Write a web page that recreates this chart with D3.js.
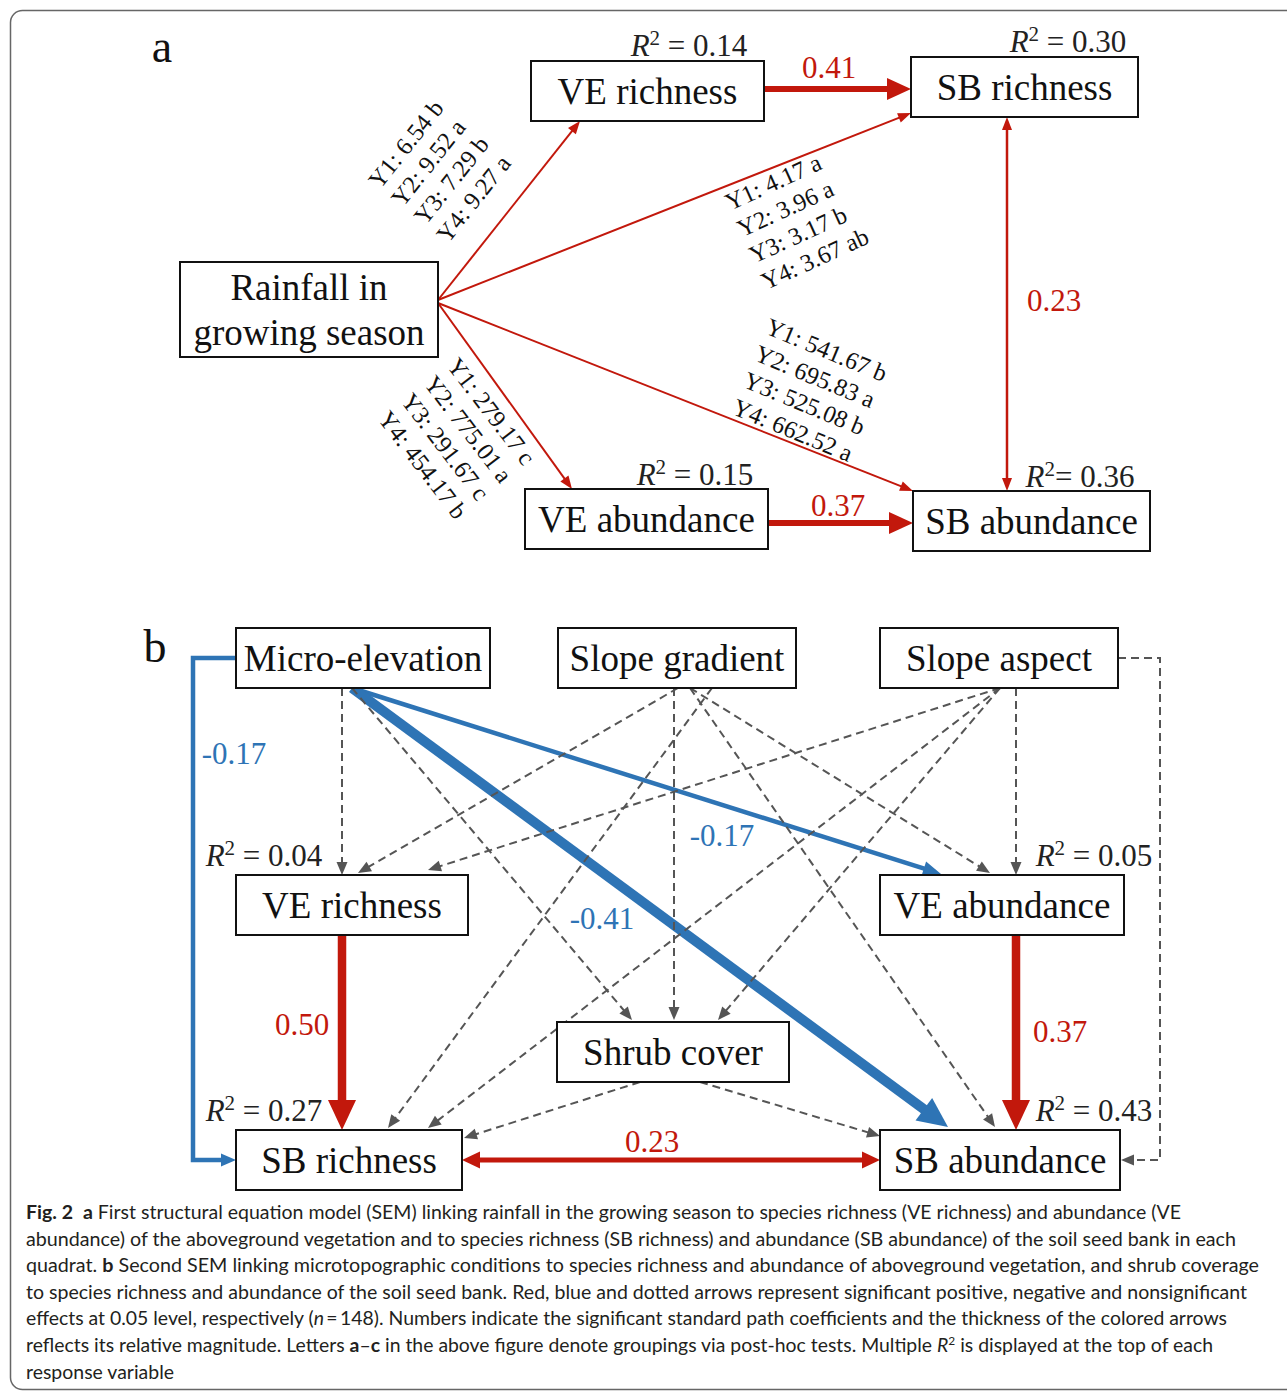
<!DOCTYPE html>
<html>
<head>
<meta charset="utf-8">
<script src="https://cdn.jsdelivr.net/npm/d3@7"></script>
<style>
  body { margin: 0; background: #fff; }
</style>
</head>
<body>
<div id="fig"></div>
<script>
// ---------- data ----------
// panel a : rainfall SEM
var aNodes = [
  {id: "rain", label: ["Rainfall in", "growing season"]},
  {id: "veR",  label: ["VE richness"]},
  {id: "sbR",  label: ["SB richness"]},
  {id: "veA",  label: ["VE abundance"]},
  {id: "sbA",  label: ["SB abundance"]}
];
var aR2 = [
  {node: "veR", r2: " = 0.14"},
  {node: "sbR", r2: " = 0.30"},
  {node: "veA", r2: " = 0.15"},
  {node: "sbA", r2: "= 0.36"}
];
var aPaths = [
  {from: "rain", to: "veR", type: "pos", coef: null},
  {from: "rain", to: "sbR", type: "pos", coef: null},
  {from: "rain", to: "veA", type: "pos", coef: null},
  {from: "rain", to: "sbA", type: "pos", coef: null},
  {from: "veR",  to: "sbR", type: "pos", coef: "0.41"},
  {from: "veA",  to: "sbA", type: "pos", coef: "0.37"},
  {from: "sbR",  to: "sbA", type: "pos", coef: "0.23", both: true}
];
// yearly means with post-hoc letters, one group per rainfall path
var yearGroups = [
  ["Y1: 6.54 b", "Y2: 9.52 a", "Y3: 7.29 b", "Y4: 9.27 a"],
  ["Y1: 4.17 a", "Y2: 3.96 a", "Y3: 3.17 b", "Y4: 3.67 ab"],
  ["Y1: 279.17 c", "Y2: 775.01 a", "Y3: 291.67 c", "Y4: 454.17 b"],
  ["Y1: 541.67 b", "Y2: 695.83 a", "Y3: 525.08 b", "Y4: 662.52 a"]
];

// panel b : microtopography SEM
var bNodes = [
  {id: "micro",  label: ["Micro-elevation"]},
  {id: "slopeG", label: ["Slope gradient"]},
  {id: "slopeA", label: ["Slope aspect"]},
  {id: "veR",    label: ["VE richness"]},
  {id: "veA",    label: ["VE abundance"]},
  {id: "shrub",  label: ["Shrub cover"]},
  {id: "sbR",    label: ["SB richness"]},
  {id: "sbA",    label: ["SB abundance"]}
];
var bR2 = [
  {node: "veR", r2: " = 0.04"},
  {node: "veA", r2: " = 0.05"},
  {node: "sbR", r2: " = 0.27"},
  {node: "sbA", r2: " = 0.43"}
];
var bPaths = [
  {from: "micro",  to: "sbR",   type: "neg", coef: "-0.17"},
  {from: "micro",  to: "veA",   type: "neg", coef: "-0.17"},
  {from: "micro",  to: "sbA",   type: "neg", coef: "-0.41"},
  {from: "veR",    to: "sbR",   type: "pos", coef: "0.50"},
  {from: "veA",    to: "sbA",   type: "pos", coef: "0.37"},
  {from: "sbR",    to: "sbA",   type: "pos", coef: "0.23", both: true},
  {from: "micro",  to: "veR",   type: "ns", coef: null},
  {from: "micro",  to: "shrub", type: "ns", coef: null},
  {from: "slopeG", to: "veR",   type: "ns", coef: null},
  {from: "slopeG", to: "veA",   type: "ns", coef: null},
  {from: "slopeG", to: "shrub", type: "ns", coef: null},
  {from: "slopeG", to: "sbR",   type: "ns", coef: null},
  {from: "slopeG", to: "sbA",   type: "ns", coef: null},
  {from: "slopeA", to: "veR",   type: "ns", coef: null},
  {from: "slopeA", to: "veA",   type: "ns", coef: null},
  {from: "slopeA", to: "shrub", type: "ns", coef: null},
  {from: "slopeA", to: "sbR",   type: "ns", coef: null},
  {from: "slopeA", to: "sbA",   type: "ns", coef: null},
  {from: "shrub",  to: "sbR",   type: "ns", coef: null},
  {from: "shrub",  to: "sbA",   type: "ns", coef: null}
];

var caption = [
  [["Fig. 2", "b"], ["  "], ["a", "b"], [" First structural equation model (SEM) linking rainfall in the growing season to species richness (VE richness) and abundance (VE"]],
  [["abundance) of the aboveground vegetation and to species richness (SB richness) and abundance (SB abundance) of the soil seed bank in each"]],
  [["quadrat. "], ["b", "b"], [" Second SEM linking microtopographic conditions to species richness and abundance of aboveground vegetation, and shrub coverage"]],
  [["to species richness and abundance of the soil seed bank. Red, blue and dotted arrows represent significant positive, negative and nonsignificant"]],
  [["effects at 0.05 level, respectively ("], ["n", "i"], ["\u2009=\u2009148). Numbers indicate the significant standard path coefficients and the thickness of the colored arrows"]],
  [["reflects its relative magnitude. Letters "], ["a", "b"], ["\u2013"], ["c", "b"], [" in the above figure denote groupings via post-hoc tests. Multiple "], ["R", "i"], ["2", "sup"], [" is displayed at the top of each"]],
  [["response variable"]]
];

// ---------- layout ----------
var W = 1287, H = 1393;
var RED = "#c2180c", BLUE = "#2e74b5", GREY = "#555";
var serif = "'Liberation Serif', 'Times New Roman', serif";

var boxA = {rain: [180, 262, 258, 95], veR: [531, 61, 233, 60], sbR: [911, 57, 227, 60],
            veA: [525, 489, 243, 60], sbA: [913, 491, 237, 60]};
var r2PosA = {veR: [689, 56], sbR: [1068, 52], veA: [695, 485], sbA: [1080, 487]};
var geomA = [
  {pts: [[438, 300], [580, 121]], w: 2, hl: 13, hw: 10},
  {pts: [[438, 300], [911, 113]], w: 2, hl: 13, hw: 10},
  {pts: [[438, 303], [572, 489]], w: 2, hl: 13, hw: 10},
  {pts: [[438, 303], [913, 491]], w: 2, hl: 13, hw: 10},
  {pts: [[764, 89], [911, 89]], w: 6, hl: 24, hw: 22, lab: [829, 78]},
  {pts: [[768, 523], [913, 523]], w: 6, hl: 24, hw: 22, lab: [838, 516]},
  {pts: [[1007, 117], [1007, 491]], w: 2.5, hl: 13, hw: 10, lab: [1054, 311]}
];
var yearPos = [[380, 190, -51.5], [730, 211, -24.5], [446, 366, 52.5], [764, 333, 22.5]];

var boxB = {micro: [236, 628, 254, 60], slopeG: [558, 628, 238, 60], slopeA: [880, 628, 238, 60],
            veR: [236, 875, 232, 60], veA: [880, 875, 244, 60], shrub: [557, 1022, 232, 60],
            sbR: [236, 1130, 226, 60], sbA: [880, 1130, 240, 60]};
var r2PosB = {veR: [264, 866], veA: [1094, 866], sbR: [264, 1121], sbA: [1094, 1121]};
var geomB = [
  {pts: [[236, 658], [193, 658], [193, 1160], [236, 1160]], w: 4.5, hl: 15, hw: 13, lab: [234, 764]},
  {pts: [[352, 688], [941, 874]], w: 4.5, hl: 18, hw: 15, lab: [722, 846]},
  {pts: [[352, 688], [948, 1127]], w: 10, hl: 30, hw: 28, lab: [602, 929]},
  {pts: [[342, 935], [342, 1130]], w: 8.5, hl: 30, hw: 28, lab: [302, 1035]},
  {pts: [[1016, 935], [1016, 1130]], w: 8.5, hl: 30, hw: 28, lab: [1060, 1042]},
  {pts: [[462, 1160], [880, 1160]], w: 5, hl: 18, hw: 17, lab: [652, 1152]},
  {pts: [[342, 688], [342, 875]]},
  {pts: [[352, 688], [632, 1020]]},
  {pts: [[678, 688], [358, 873]]},
  {pts: [[690, 688], [990, 873]]},
  {pts: [[674, 688], [674, 1020]]},
  {pts: [[712, 688], [388, 1128]]},
  {pts: [[690, 688], [995, 1127]]},
  {pts: [[1000, 688], [428, 870]]},
  {pts: [[1016, 688], [1016, 875]]},
  {pts: [[1000, 688], [718, 1020]]},
  {pts: [[1000, 688], [428, 1128]]},
  {pts: [[1118, 658], [1160, 658], [1160, 1160], [1121, 1160]]},
  {pts: [[640, 1082], [464, 1138]]},
  {pts: [[700, 1082], [880, 1136]]}
];
var capX = 26, capY0 = 1219, capStep = 26.6;
var capWidths = [1155, 1210, 1233, 1221, 1201, 1187, 148];

// ---------- drawing ----------
var svg = d3.select("#fig").append("svg")
  .attr("width", W).attr("height", H)
  .style("display", "block");

svg.append("rect")
  .attr("x", 10.5).attr("y", 10.5)
  .attr("width", 1300).attr("height", 1379)
  .attr("rx", 12)
  .attr("fill", "none").attr("stroke", "#666").attr("stroke-width", 1.5);

var colorOf = {pos: RED, neg: BLUE, ns: GREY};

function arrow(g, pts, o) {
  var p = pts.map(function(d) { return [d[0], d[1]]; });
  var n = p.length;
  function back(a, b, len) {
    var dx = b[0] - a[0], dy = b[1] - a[1], L = Math.hypot(dx, dy);
    return [b[0] - dx / L * len, b[1] - dy / L * len];
  }
  function head(a, b) {
    var dx = b[0] - a[0], dy = b[1] - a[1], L = Math.hypot(dx, dy);
    var ux = dx / L, uy = dy / L;
    var bx = b[0] - ux * o.hl, by = b[1] - uy * o.hl;
    return [[b[0], b[1]], [bx - uy * o.hw / 2, by + ux * o.hw / 2], [bx + uy * o.hw / 2, by - ux * o.hw / 2]];
  }
  var heads = [head(p[n - 2], p[n - 1])];
  var q = p.slice();
  q[n - 1] = back(p[n - 2], p[n - 1], o.hl * 0.7);
  if (o.both) {
    heads.push(head(p[1], p[0]));
    q[0] = back(p[1], p[0], o.hl * 0.7);
  }
  g.append("path")
    .attr("d", d3.line()(q))
    .attr("fill", "none")
    .attr("stroke", o.color)
    .attr("stroke-width", o.w)
    .attr("stroke-dasharray", o.dash ? "8,5" : null);
  heads.forEach(function(h) {
    g.append("path").attr("d", d3.line()(h) + "Z").attr("fill", o.color);
  });
}

function drawBoxes(g, nodes, boxes) {
  var bg = g.selectAll(".node").data(nodes).enter().append("g").attr("class", "node");
  bg.append("rect")
    .attr("x", function(d) { return boxes[d.id][0]; })
    .attr("y", function(d) { return boxes[d.id][1]; })
    .attr("width", function(d) { return boxes[d.id][2]; })
    .attr("height", function(d) { return boxes[d.id][3]; })
    .attr("fill", "#fff").attr("stroke", "#111").attr("stroke-width", 2);
  bg.each(function(d) {
    var b = boxes[d.id], k = d.label.length;
    d3.select(this).selectAll("text").data(d.label).enter().append("text")
      .attr("x", b[0] + b[2] / 2)
      .attr("y", function(t, i) { return b[1] + b[3] / 2 + (i - (k - 1) / 2) * 45; })
      .attr("dy", "0.34em")
      .attr("text-anchor", "middle")
      .attr("font-family", serif)
      .attr("font-size", 37)
      .attr("fill", "#111")
      .text(function(t) { return t; });
  });
}

function drawR2(g, list, pos) {
  list.forEach(function(d) {
    var p = pos[d.node];
    var t = g.append("text")
      .attr("x", p[0]).attr("y", p[1])
      .attr("text-anchor", "middle")
      .attr("font-family", serif)
      .attr("font-size", 31)
      .attr("fill", "#222");
    t.append("tspan").attr("font-style", "italic").text("R");
    t.append("tspan").attr("font-size", 21).attr("dy", -11).text("2");
    t.append("tspan").attr("dy", 11).text(d.r2);
  });
}

function drawCoef(g, paths, geom) {
  paths.forEach(function(d, i) {
    if (!d.coef) return;
    g.append("text")
      .attr("x", geom[i].lab[0]).attr("y", geom[i].lab[1])
      .attr("text-anchor", "middle")
      .attr("font-family", serif)
      .attr("font-size", 31)
      .attr("fill", colorOf[d.type])
      .text(d.coef);
  });
}

// panel a
var ga = svg.append("g").attr("class", "panelA");
aPaths.forEach(function(d, i) {
  var s = geomA[i];
  arrow(ga, s.pts, {color: colorOf[d.type], w: s.w, hl: s.hl, hw: s.hw, both: d.both, dash: false});
});
drawBoxes(ga, aNodes, boxA);
drawR2(ga, aR2, r2PosA);
drawCoef(ga, aPaths, geomA);

yearGroups.forEach(function(lines, i) {
  var p = yearPos[i];
  var t = ga.append("text")
    .attr("transform", "translate(" + p[0] + "," + p[1] + ") rotate(" + p[2] + ")")
    .attr("font-family", serif)
    .attr("font-size", 24.5)
    .attr("fill", "#111");
  t.selectAll("tspan").data(lines).enter().append("tspan")
    .attr("x", 0)
    .attr("y", function(l, j) { return j * 29; })
    .text(function(l) { return l; });
});

ga.append("text")
  .attr("x", 162).attr("y", 62)
  .attr("text-anchor", "middle")
  .attr("font-family", serif).attr("font-size", 46).attr("fill", "#111")
  .text("a");

// panel b
var gb = svg.append("g").attr("class", "panelB");
bPaths.forEach(function(d, i) {
  var s = geomB[i];
  if (d.type === "ns") {
    arrow(gb, s.pts, {color: GREY, w: 2, hl: 13, hw: 11, dash: true});
  } else {
    arrow(gb, s.pts, {color: colorOf[d.type], w: s.w, hl: s.hl, hw: s.hw, both: d.both, dash: false});
  }
});
drawBoxes(gb, bNodes, boxB);
drawR2(gb, bR2, r2PosB);
drawCoef(gb, bPaths, geomB);

gb.append("text")
  .attr("x", 155).attr("y", 662)
  .attr("text-anchor", "middle")
  .attr("font-family", serif).attr("font-size", 46).attr("fill", "#111")
  .text("b");

// caption
var gc = svg.append("g").attr("class", "caption")
  .attr("font-family", "Lato, 'Open Sans', sans-serif")
  .attr("font-size", 19.5)
  .attr("fill", "#231f20");
caption.forEach(function(segs, i) {
  var t = gc.append("text")
    .attr("x", capX)
    .attr("y", capY0 + i * capStep)
    .attr("textLength", capWidths[i])
    .attr("lengthAdjust", "spacingAndGlyphs")
    .attr("xml:space", "preserve")
    .style("white-space", "pre");
  segs.forEach(function(s) {
    var ts = t.append("tspan").text(s[0]);
    if (s[1] === "b") ts.attr("font-weight", "bold");
    if (s[1] === "i") ts.attr("font-style", "italic");
    if (s[1] === "sup") ts.attr("font-size", 12).attr("baseline-shift", "super");
  });
});
</script>
</body>
</html>
